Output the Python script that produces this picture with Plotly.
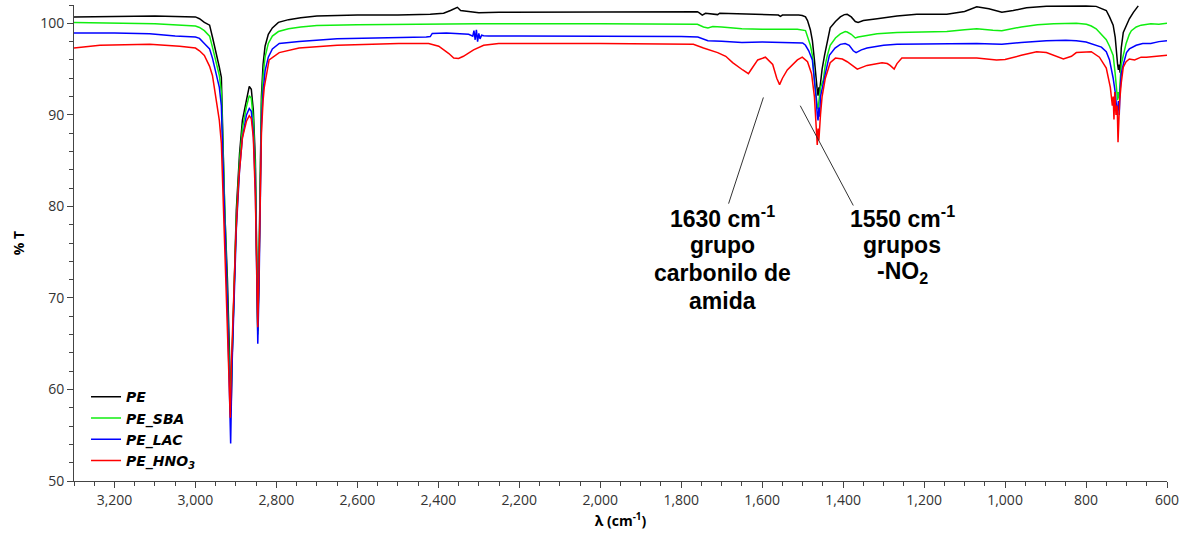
import plotly.graph_objects as go

# ---------------- data (wavenumber cm-1, %T) ----------------
pe_wn = [3300, 3200, 3100, 3000, 2990, 2978, 2965, 2958, 2948, 2941, 2936, 2933, 2928, 2921, 2916, 2912, 2909,
         2904, 2899, 2891, 2884, 2874, 2867, 2862, 2857, 2852, 2849, 2846, 2843, 2840, 2837, 2833, 2828, 2820,
         2810, 2795, 2770, 2740, 2700, 2600, 2500, 2420, 2387, 2370, 2353, 2345, 2330, 2300, 2250, 2000, 1800,
         1760, 1757, 1748, 1740, 1710, 1705, 1600, 1560, 1555, 1550, 1510, 1501, 1493, 1488, 1481, 1476, 1471,
         1469, 1466, 1464, 1462, 1460, 1459, 1456, 1452, 1446, 1439, 1432, 1419, 1407, 1397, 1390, 1380, 1370,
         1363, 1350, 1316, 1267, 1218, 1144, 1100, 1070, 1040, 1008, 980, 947, 898, 848, 800, 775, 760, 750,
         742, 733, 728, 725, 722, 720, 718, 716, 713, 708, 701, 693, 683, 671]
pe_t = [100.7, 100.75, 100.8, 100.7, 100.5, 100.1, 99.8, 98.5, 96.7, 95.2, 94.1, 88.0, 80.0, 72.0, 62.0, 57.7, 64.0,
        73.3, 79.6, 85.8, 89.4, 91.6, 93.1, 92.8, 90.5, 85.0, 76.0, 66.4, 74.0, 85.0, 92.0, 95.5, 97.5, 98.8,
        99.5, 100.1, 100.4, 100.6, 100.8, 100.9, 100.9, 101.0, 101.1, 101.4, 101.75, 101.4, 101.3, 101.15, 101.2, 101.25, 101.3,
        101.25, 101.2, 100.9, 101.1, 100.95, 101.1, 100.95, 100.9, 100.75, 100.9, 100.9, 100.85, 100.7, 100.3, 99.3, 98.1, 96.0,
        94.8, 93.5, 92.7, 92.1, 93.0, 92.3, 93.5, 95.0, 96.5, 98.0, 99.5, 100.2, 100.7, 100.95, 100.98, 100.7, 100.2,
        100.1, 100.3, 100.5, 100.8, 101.0, 101.0, 101.3, 101.8, 101.6, 101.2, 101.4, 101.7, 101.85, 101.9, 101.9, 101.85, 101.6, 101.4,
        100.7, 99.8, 98.5, 96.5, 95.5, 94.9, 95.5, 94.6, 97.3, 99.0, 99.8, 100.5, 101.2, 101.9]

sba_wn = [3300, 3200, 3100, 3000, 2990, 2978, 2965, 2958, 2948, 2941, 2936, 2932, 2928, 2921, 2916, 2913, 2910,
          2904, 2899, 2891, 2884, 2874, 2867, 2862, 2857, 2852, 2849, 2846, 2843, 2840, 2837, 2833, 2828, 2820,
          2810, 2795, 2770, 2740, 2700, 2600, 2500, 2400, 2300, 2000, 1800, 1760, 1745, 1734, 1722, 1700, 1650,
          1600, 1513, 1493, 1481, 1476, 1471, 1467, 1464, 1462, 1459, 1456, 1449, 1444, 1439, 1432, 1419, 1407,
          1395, 1390, 1380, 1370, 1363, 1341, 1316, 1267, 1144, 1100, 1070, 1030, 1008, 960, 920, 880, 824, 799,
          787, 775, 767, 750, 742, 733, 728, 725, 722, 720, 718, 716, 713, 708, 701, 693, 688, 676, 664, 640, 620, 600]
sba_t = [100.1, 100.05, 99.95, 99.7, 99.55, 99.2, 98.6, 97.4, 95.5, 94.3, 92.5, 87.0, 80.0, 70.0, 62.0, 57.5, 63.0,
         72.0, 78.5, 85.0, 88.5, 90.9, 92.1, 91.8, 89.5, 84.0, 75.0, 66.0, 73.0, 84.0, 91.0, 94.2, 96.3, 97.8,
         98.6, 99.1, 99.4, 99.6, 99.75, 99.85, 99.9, 99.9, 99.95, 99.95, 99.95, 99.9, 99.6, 99.5, 99.65, 99.6, 99.4,
         99.35, 99.35, 99.2, 97.6, 96.5, 93.8, 92.0, 91.0, 90.6, 91.8, 93.0, 93.8, 95.5, 96.5, 97.6, 98.4, 98.85,
         99.1, 99.05, 98.8, 98.4, 98.5, 98.7, 98.85, 99.0, 99.1, 99.3, 99.4, 99.25, 99.2, 99.6, 99.85, 99.95, 100.0, 99.9,
         99.7, 99.4, 99.0, 98.2, 97.5, 96.5, 94.5, 93.0, 91.6, 92.5, 91.8, 93.5, 95.5, 96.5, 97.8, 98.8, 99.2, 99.6, 99.8, 99.95, 99.9, 100.0]

lac_wn = [3300, 3200, 3113, 3050, 3000, 2990, 2978, 2965, 2958, 2948, 2941, 2936, 2932, 2928, 2921, 2916, 2913, 2910,
          2904, 2899, 2891, 2884, 2874, 2867, 2862, 2857, 2852, 2849, 2846, 2843, 2840, 2837, 2833, 2828, 2820,
          2810, 2793, 2744, 2650, 2498, 2430, 2420, 2415, 2380, 2340, 2325, 2315, 2312, 2309, 2306, 2303, 2300,
          2297, 2293, 2288, 2276, 2200, 2000, 1800, 1759, 1734, 1700, 1650, 1600, 1513, 1500, 1493, 1485, 1476,
          1471, 1467, 1464, 1462, 1460, 1458, 1456, 1449, 1444, 1434, 1420, 1407, 1395, 1385, 1375, 1368, 1355,
          1341, 1300, 1267, 1144, 1070, 1030, 1008, 960, 898, 850, 824, 800, 775, 762, 750, 742, 733, 728, 725,
          722, 720, 718, 716, 713, 708, 705, 700, 693, 676, 660, 640, 620, 600]
lac_t = [98.95, 98.95, 98.85, 98.6, 98.5, 98.35, 97.8, 97.2, 96.2, 94.5, 93.0, 91.0, 86.0, 79.0, 69.0, 60.0, 54.1, 62.0,
         71.0, 77.5, 84.0, 87.5, 90.0, 90.7, 90.4, 88.0, 82.0, 72.0, 65.0, 71.0, 82.0, 89.0, 92.5, 94.8, 96.3,
         97.2, 97.8, 98.0, 98.3, 98.4, 98.5, 98.55, 98.9, 98.95, 98.85, 98.8, 98.6, 99.2, 98.2, 99.3, 98.0, 98.9,
         98.3, 98.7, 98.65, 98.6, 98.6, 98.6, 98.55, 98.5, 98.1, 98.05, 97.9, 97.95, 97.9, 97.85, 97.6, 97.0, 96.0,
         94.0, 92.0, 90.0, 89.4, 90.8, 89.8, 92.0, 93.3, 94.5, 96.5, 97.3, 97.7, 97.8, 97.6, 97.0, 96.8, 97.1,
         97.3, 97.6, 97.7, 97.8, 97.8, 97.75, 97.7, 97.9, 98.1, 98.15, 98.1, 97.95, 97.6, 97.4, 96.9, 96.0, 94.0, 92.5, 91.0,
         90.5, 91.5, 90.0, 92.5, 94.5, 95.5, 96.0, 96.8, 97.2, 97.6, 97.8, 97.8, 98.0, 98.1]

hno3_wn = [3300, 3236, 3113, 3039, 3000, 2990, 2978, 2965, 2958, 2953, 2948, 2941, 2936, 2932, 2926, 2921, 2916, 2914,
           2911, 2906, 2900, 2893, 2884, 2874, 2867, 2862, 2857, 2852, 2849, 2846, 2843, 2840, 2837, 2833, 2830,
           2818, 2793, 2744, 2650, 2498, 2424, 2399, 2374, 2362, 2350, 2338, 2325, 2313, 2288, 2251, 2000, 1800,
           1770, 1745, 1710, 1690, 1673, 1648, 1634, 1628, 1611, 1592, 1574, 1564, 1557, 1550, 1538, 1513, 1501,
           1488, 1478, 1471, 1466, 1464, 1462, 1460, 1456, 1452, 1444, 1432, 1419, 1402, 1390, 1370, 1365, 1341,
           1316, 1304, 1291, 1284, 1274, 1267, 1255, 1144, 1070, 1021, 1000, 960, 922, 898, 868, 856, 836, 824,
           787, 767, 750, 740, 735, 733, 731, 729, 726, 723, 721, 719, 717, 713, 708, 701, 693, 680, 664, 651, 620, 600]
hno3_t = [97.3, 97.6, 97.7, 97.5, 97.3, 97.0, 96.5, 95.3, 94.3, 92.7, 91.5, 89.4, 86.9, 81.4, 73.3, 66.8, 58.0, 56.9,
          63.0, 70.0, 77.0, 83.0, 87.5, 89.3, 89.9, 89.6, 87.5, 81.0, 72.0, 66.8, 73.0, 82.0, 88.0, 91.5, 93.0,
          96.0, 96.8, 97.3, 97.6, 97.8, 97.8, 97.5, 96.7, 96.2, 96.15, 96.4, 96.8, 97.1, 97.6, 97.8, 97.8, 97.75,
          97.7, 97.3, 96.8, 96.4, 95.7, 94.9, 94.5, 94.9, 96.0, 96.3, 95.5, 94.0, 93.3, 94.0, 94.9, 96.0, 96.3,
          95.8, 94.5, 92.0, 89.0, 86.7, 88.5, 87.2, 90.0, 92.0, 94.0, 95.7, 96.2, 96.1, 95.8, 95.1, 95.0, 95.4,
          95.6, 95.7, 95.6, 95.4, 95.0, 95.6, 96.2, 96.2, 96.2, 96.0, 96.05, 96.5, 96.9, 96.8, 96.3, 96.1, 96.4, 96.8,
          96.9, 96.3, 95.1, 93.0, 91.0, 92.0, 89.5, 92.5, 90.0, 91.0, 87.0, 89.0, 91.5, 93.5, 95.2, 95.8, 96.1, 96.0, 96.3, 96.3, 96.45, 96.5]

series_names = ["PE", "PE_SBA", "PE_LAC", "PE_HNO<sub>3</sub>"]
series_colors = ["#000000", "#10ee10", "#0000ff", "#ff0000"]
series_wn = [pe_wn, sba_wn, lac_wn, hno3_wn]
series_t = [pe_t, sba_t, lac_t, hno3_t]

x_tick_vals = [3200, 3000, 2800, 2600, 2400, 2200, 2000, 1800, 1600, 1400, 1200, 1000, 800, 600]
x_tick_text = ["3,200", "3,000", "2,800", "2,600", "2,400", "2,200", "2,000", "1,800",
               "1,600", "1,400", "1,200", "1,000", "800", "600"]
y_tick_vals = [50, 60, 70, 80, 90, 100]

# annotation labels (text and pointer lines)
label1_lines = ["1630 cm<sup>-1</sup>", "grupo", "carbonilo de", "amida"]
label2_lines = ["1550 cm<sup>-1</sup>", "grupos", "-NO<sub>2</sub>"]
label1_center = 1698
label2_center = 1254
pointer1 = dict(x0=1683, y0=80.3, x1=1597, y1=91.9)
pointer2 = dict(x0=1506, y0=91.0, x1=1375, y1=80.1)

# ---------------- figure ----------------
fig = go.Figure()
for name, color, wn, t in zip(series_names, series_colors, series_wn, series_t):
    fig.add_trace(go.Scatter(x=wn, y=t, mode="lines", name=name,
                             line=dict(color=color, width=1.5)))

axis_font = dict(family="Open Sans, Noto Sans, sans-serif", size=14, color="#333333")

fig.update_layout(
    width=1184, height=535,
    margin=dict(l=74, r=13, t=5, b=54),
    paper_bgcolor="white", plot_bgcolor="white",
    showlegend=True,
    legend=dict(x=0.011, y=0.01, xanchor="left", yanchor="bottom",
                bgcolor="rgba(0,0,0,0)",
                font=dict(family="DejaVu Sans, sans-serif", size=14, color="#000000",
                          weight="bold", style="italic"),
                tracegroupgap=0, itemwidth=30),
    xaxis=dict(range=[3300, 600], tickmode="array", tickvals=x_tick_vals, ticktext=x_tick_text,
               showgrid=False, zeroline=False, showline=True, linecolor="#444444", linewidth=1,
               ticks="outside", ticklen=6, tickcolor="#444444", tickfont=axis_font,
               minor=dict(dtick=50, ticks="outside", ticklen=4, tickcolor="#444444", showgrid=False),
               title=dict(text="<b>λ (cm<sup>-1</sup>)</b>", standoff=8,
                          font=dict(family="Open Sans, Noto Sans, sans-serif", size=14, color="#000000"))),
    yaxis=dict(range=[50, 102], tickmode="array", tickvals=y_tick_vals,
               showgrid=False, zeroline=False, showline=True, linecolor="#444444", linewidth=1,
               ticks="outside", ticklen=6, tickcolor="#444444", tickfont=axis_font,
               minor=dict(dtick=2, ticks="outside", ticklen=4, tickcolor="#444444", showgrid=False),
               title=dict(text="<b>% T</b>", standoff=12,
                          font=dict(family="Open Sans, Noto Sans, sans-serif", size=14, color="#000000"))),
)

ann_font = dict(family="Liberation Sans, Arial, sans-serif", size=23, color="#000000", weight="bold")
line_gap_px = 28
for i, txt in enumerate(label1_lines):
    fig.add_annotation(x=label1_center, y=80.4, xref="x", yref="y", text=txt, showarrow=False,
                       font=ann_font, xanchor="center", yanchor="middle", yshift=-14 - i * line_gap_px)
for i, txt in enumerate(label2_lines):
    fig.add_annotation(x=label2_center, y=80.4, xref="x", yref="y", text=txt, showarrow=False,
                       font=ann_font, xanchor="center", yanchor="middle", yshift=-14 - i * line_gap_px)

for p in (pointer1, pointer2):
    fig.add_shape(type="line", xref="x", yref="y", line=dict(color="#333333", width=1), **p)

fig.write_html("out.html")
